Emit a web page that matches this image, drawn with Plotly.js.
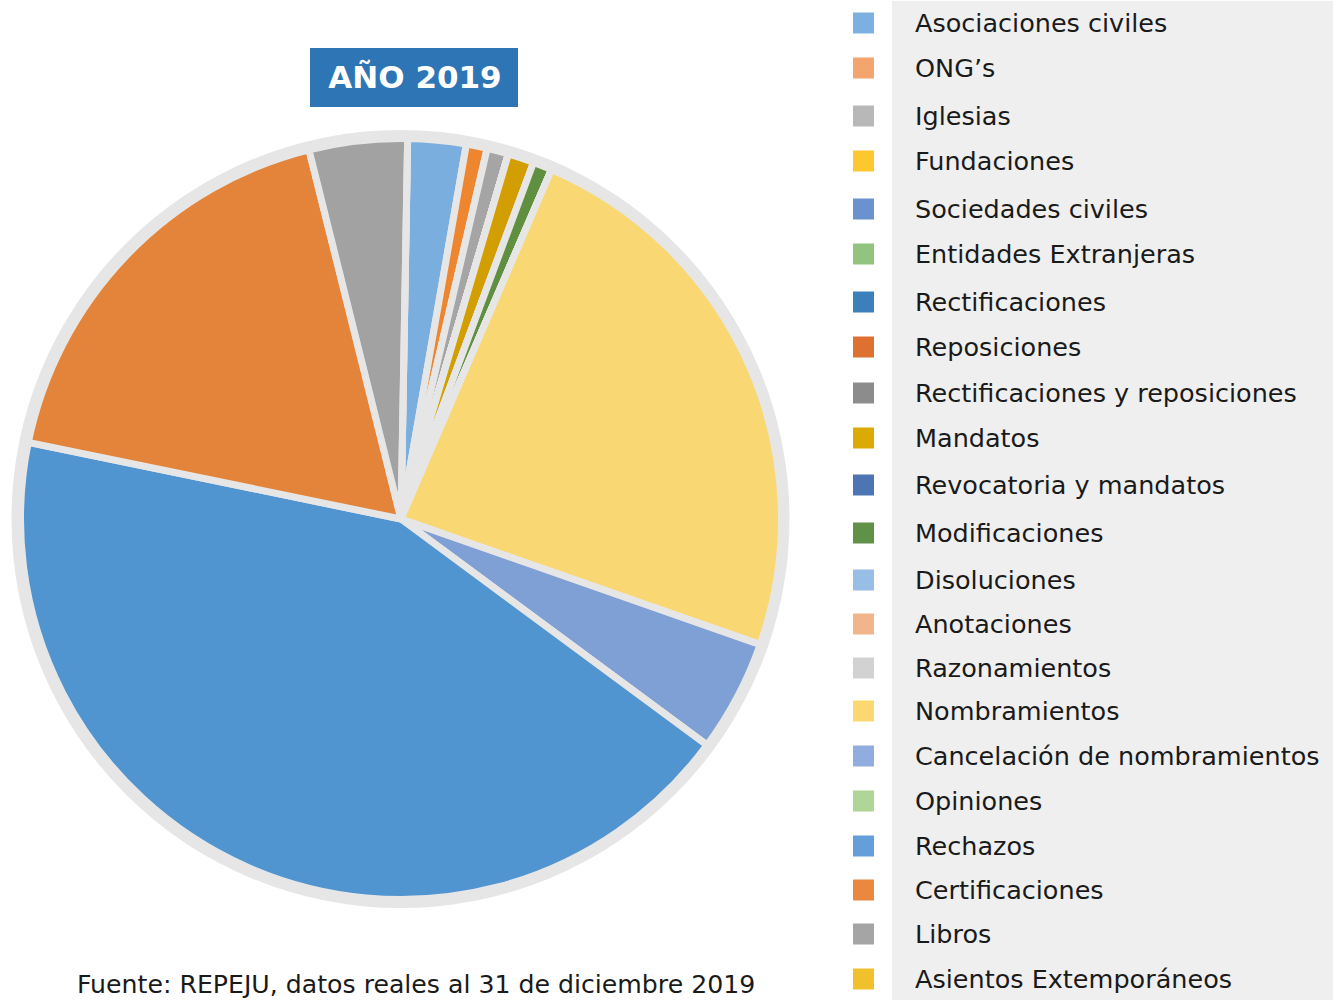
<!DOCTYPE html>
<html>
<head>
<meta charset="utf-8">
<script src="https://cdn.plot.ly/plotly-3.0.1.min.js"></script>
<style>html,body{margin:0;padding:0;background:#fff;}</style>
</head>
<body>
<div id="chart" style="width:1333px;height:1000px;"></div>
<script>
const chartTitle = 'AÑO 2019';
const sourceNote = 'Fuente: REPEJU, datos reales al 31 de diciembre 2019';

const labels = [
  'Asociaciones civiles', 'ONG’s', 'Iglesias', 'Fundaciones', 'Sociedades civiles',
  'Entidades Extranjeras', 'Rectificaciones', 'Reposiciones', 'Rectificaciones y reposiciones',
  'Mandatos', 'Revocatoria y mandatos', 'Modificaciones', 'Disoluciones', 'Anotaciones',
  'Razonamientos', 'Nombramientos', 'Cancelación de nombramientos', 'Opiniones', 'Rechazos',
  'Certificaciones', 'Libros', 'Asientos Extemporáneos'
];

const values = [
  89, 32, 33, 0, 0,
  0, 0, 0, 0,
  40, 0, 29, 0, 0,
  0, 860, 172, 0, 1552,
  644, 150, 0
];

const sliceColors = [
  '#79aedf', '#ee8630', '#a5a5a5', '#fdc72e', '#6a92cf',
  '#93c47d', '#3c80bb', '#de7130', '#8c8c8c', '#d29e00',
  '#4d75b4', '#5f8f3f', '#97bfe6', '#f2b48b', '#d2d2d2',
  '#f9d772', '#7fa0d4', '#afd696', '#5095d0', '#e4843a',
  '#a2a2a2', '#f0c02d'
];

const legendColors = [
  '#7cb0e0', '#f4a46e', '#b8b8b8', '#fdc72e', '#6a92cf',
  '#93c47d', '#3c80bb', '#de7130', '#8c8c8c', '#dbaa05',
  '#4d75b4', '#5f9146', '#97bfe6', '#f2b48b', '#d2d2d2',
  '#fcd970', '#91ade0', '#afd696', '#659fda', '#e9883f',
  '#a5a5a5', '#f0c02d'
];

// legend row centres (layout, pixels from top)
const legendRowY = [
  23, 68, 116, 161, 209, 254, 302, 347, 393, 438, 485,
  533, 580, 624, 668, 711, 756, 801, 846, 890, 934, 979
];

const W = 1333, H = 1000;
const px = v => v / W;
const py = v => 1 - v / H;

// pie geometry (pixels)
const cx = 401, cy = 519, R = 380.5, discR = 389;
const font = 'DejaVu Sans';

const trace = {
  type: 'pie',
  labels: labels,
  values: values,
  sort: false,
  direction: 'clockwise',
  rotation: 1,
  textinfo: 'none',
  hoverinfo: 'label+value+percent',
  marker: { colors: sliceColors, line: { color: '#e6e6e6', width: 7 } },
  domain: { x: [px(cx - R), px(cx + R)], y: [py(cy + R), py(cy - R)] },
  showlegend: false
};

const shapes = [
  { type: 'circle', xref: 'paper', yref: 'paper', layer: 'below',
    x0: px(cx - 0.5 - discR), x1: px(cx - 0.5 + discR), y0: py(cy + discR), y1: py(cy - discR),
    fillcolor: '#e6e6e6', line: { width: 0 } },
  { type: 'rect', xref: 'paper', yref: 'paper', layer: 'below',
    x0: px(892), x1: 1, y0: 0, y1: py(1),
    fillcolor: '#efefef', line: { width: 0 } },
  { type: 'rect', xref: 'paper', yref: 'paper', layer: 'below',
    x0: px(310), x1: px(518), y0: py(107), y1: py(48),
    fillcolor: '#2e75b6', line: { width: 0 } }
];

const annotations = [];
labels.forEach((lab, i) => {
  const yc = legendRowY[i];
  shapes.push({ type: 'rect', xref: 'paper', yref: 'paper', layer: 'above',
    x0: px(853), x1: px(874), y0: py(yc + 10.5), y1: py(yc - 10.5),
    fillcolor: legendColors[i], line: { width: 0 } });
  annotations.push({ xref: 'paper', yref: 'paper', x: px(913), y: py(yc),
    xanchor: 'left', yanchor: 'middle', showarrow: false, text: lab,
    font: { family: font, size: 25.5, color: '#1a1a1a' } });
});

annotations.push({ xref: 'paper', yref: 'paper', x: px(416), y: py(984),
  xanchor: 'center', yanchor: 'middle', showarrow: false, text: sourceNote,
  font: { family: font, size: 25.2, color: '#1a1a1a' } });

const layout = {
  width: W, height: H,
  margin: { l: 0, r: 0, t: 0, b: 0, pad: 0 },
  paper_bgcolor: '#ffffff',
  showlegend: false,
  title: { text: '<b>' + chartTitle + '</b>', x: px(415), xanchor: 'center', xref: 'paper',
    y: py(77), yanchor: 'middle', yref: 'container',
    font: { family: font, size: 31, color: '#ffffff' } },
  shapes: shapes,
  annotations: annotations
};

Plotly.newPlot('chart', [trace], layout, { displayModeBar: false });
</script>
</body>
</html>
